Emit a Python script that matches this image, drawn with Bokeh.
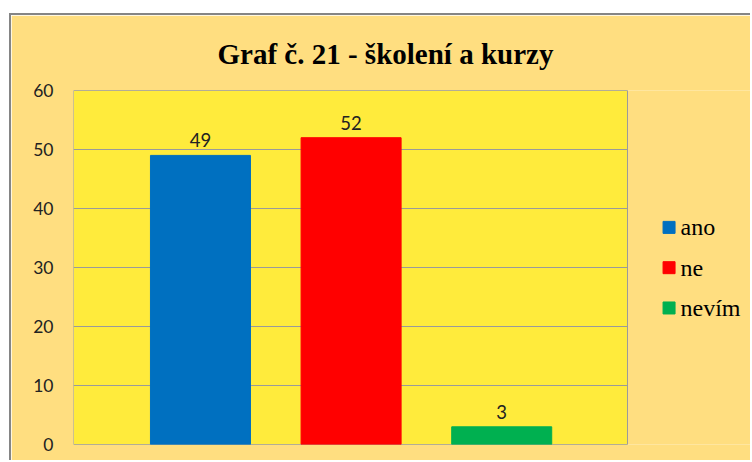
from bokeh.plotting import figure
from bokeh.models import ColumnDataSource, Range1d, FixedTicker
from bokeh.core.properties import value
from bokeh.embed import file_html
from bokeh.resources import INLINE

# Data
categories = ["ano", "ne", "nevím"]
counts = [49, 52, 3]
bar_colors = ["#0070C0", "#FF0000", "#00B050"]
y_ticks = [0, 10, 20, 30, 40, 50, 60]
title_text = "Graf č. 21 - školení a kurzy"

# category slots on a numeric axis (0.5, 1.5, 2.5 ...)
xpos = [i + 0.5 for i in range(len(categories))]
area_left, area_right = -0.343, 3.335   # yellow plot area extent (x units)
y_min, y_max = 0, 60

# legend layout (placed in the frame to the right of the plot area)
leg_sq_x, leg_txt_x = 3.611, 3.687
leg_y_top, leg_step = 36.8, 6.83
leg_y = [leg_y_top - i * leg_step for i in range(len(categories))]

p = figure(width=741, height=447, output_backend="svg", toolbar_location=None,
           x_range=Range1d(area_left, 4.165), y_range=Range1d(y_min, y_max),
           title=title_text,
           min_border_left=62, min_border_right=0, min_border_top=75,
           min_border_bottom=18)
p.styles = {"border-top": "2px solid #858585", "border-left": "2px solid #858585",
            "margin-top": "13px", "margin-left": "9px"}
p.border_fill_color = "#FFDE80"
p.background_fill_color = "#FFDE80"
p.outline_line_color = None

p.title.align = "left"
p.title.offset = 144
p.title.text_font = "Liberation Serif"
p.title.text_font_style = "bold"
p.title.text_font_size = "29px"
p.title.text_color = "#000000"
p.title.standoff = 41

p.xaxis.visible = False
p.xgrid.visible = False
p.ygrid.visible = False

ya = p.yaxis[0]
ya.ticker = FixedTicker(ticks=y_ticks)
ya.axis_line_color = None
ya.major_tick_line_color = None
ya.minor_tick_line_color = None
ya.major_tick_out = 0
ya.major_tick_in = 0
ya.major_label_standoff = 20
ya.major_label_text_font = "Lato"
ya.major_label_text_font_size = "17.5px"
ya.major_label_text_color = "#222222"

# yellow plot area with grey border
p.quad(left=[area_left], right=[area_right], bottom=[y_min], top=[y_max],
       fill_color="#FFEB3C", line_color="#9A9A9A", line_width=1, level="image")
# horizontal gridlines at tick values, limited to plot area
p.segment(x0=[area_left] * len(y_ticks), x1=[area_right] * len(y_ticks),
          y0=y_ticks, y1=y_ticks, line_color="#9A9A9A", line_width=1,
          level="underlay")

src = ColumnDataSource(dict(x=xpos, val=counts, color=bar_colors,
                            lab=[str(v) for v in counts], cat=categories,
                            ly=leg_y, lsx=[leg_sq_x] * len(categories),
                            ltx=[leg_txt_x] * len(categories)))

p.vbar(x="x", top="val", width=0.664, source=src, fill_color="color",
       line_color="color")
p.text(x="x", y="val", text="lab", source=src, text_align="center",
       text_baseline="alphabetic", y_offset=-15, text_font=value("Lato"),
       text_font_size="18.5px", text_color="#222222")

# legend
p.scatter(x="lsx", y="ly", source=src, marker="square", size=12,
          fill_color="color", line_color="color")
p.text(x="ltx", y="ly", text="cat", source=src, text_align="left",
       text_baseline="middle", text_font=value("Liberation Serif"),
       text_font_size="24px", text_color="#000000")

open("out.html", "w").write(file_html(p, INLINE))
